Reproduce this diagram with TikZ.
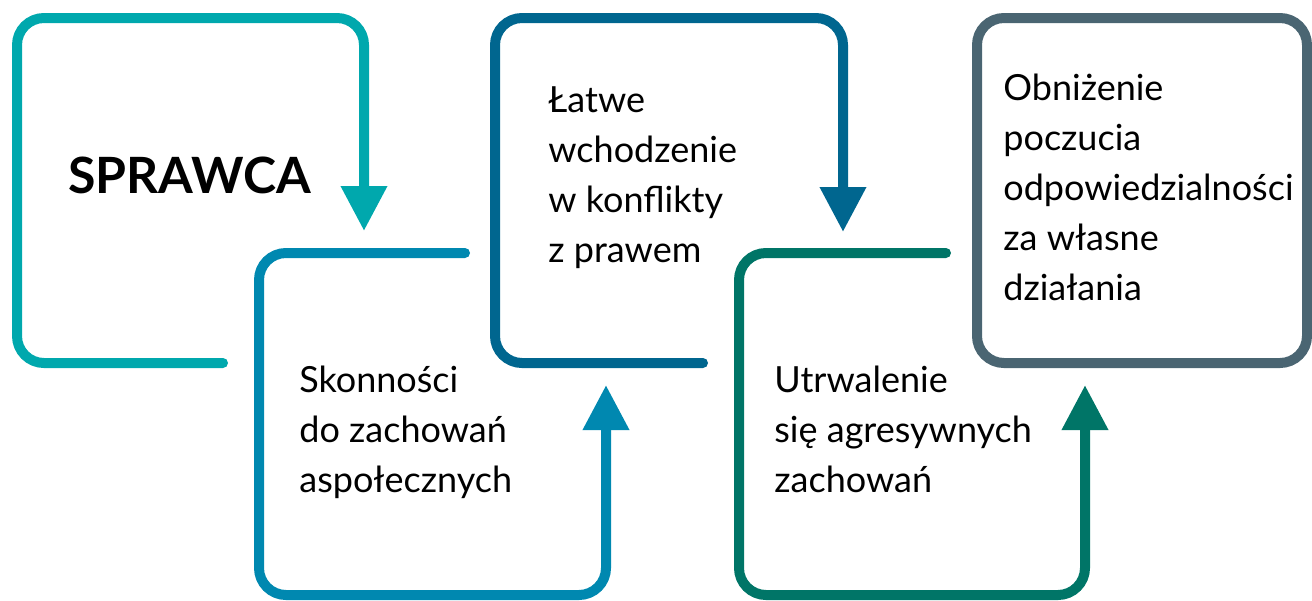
\documentclass[tikz,border=0pt]{standalone}
\usepackage{fontspec}
\setmainfont{Lato}
\usetikzlibrary{arrows.meta,positioning}
\definecolor{cteal}{RGB}{0,168,173}
\definecolor{cblue}{RGB}{0,136,176}
\definecolor{cdark}{RGB}{0,102,143}
\definecolor{cgreen}{RGB}{0,117,103}
\definecolor{cgray}{RGB}{74,101,114}

\begin{document}
\begin{tikzpicture}[
  x=0.5pt, y=-0.5pt,
  frame/.style={line width=5pt, rounded corners=13.5pt, line cap=round},
  arr/.style={-{Triangle[width=22pt,length=22.5pt]}},
  txt/.style={anchor=base west, align=left, inner sep=0pt,
    font=\fontsize{18}{25}\selectfont}
]
  \useasboundingbox (0,0) rectangle (1312,600);
  % texts (anchored at the last line)
  \node[txt, font=\fontsize{25}{28}\selectfont\bfseries] (sprawca) at (68,193) {SPRAWCA};
  \node[txt] (sklonnosci) at (299,492) {Skonności\\do zachowań\\aspołecznych};
  \node[txt] (konflikty) at (548,262) {Łatwe\\wchodzenie\\w konflikty\\z prawem};
  \node[txt] (utrwalenie) at (774,492) {Utrwalenie\\się agresywnych\\zachowań};
  \node[txt] (obnizenie) at (1003,300) {Obniżenie\\poczucia\\odpowiedzialności\\za własne\\działania};
  % frame ends and arrow tips
  \coordinate (s1) at (223,363); \coordinate (t1) at (364,231);
  \coordinate (s2) at (465,253); \coordinate (t2) at (606,385);
  \coordinate (s3) at (703,363); \coordinate (t3) at (843,232);
  \coordinate (s4) at (946,253); \coordinate (t4) at (1085,385);
  % frames
  \draw[frame, arr, cteal] (s1) -- (17,363) -- (17,18) -- (t1 |- 0,18) -- (t1);
  \draw[frame, arr, cblue] (s2) -- (259,253) -- (259,595) -- (t2 |- 0,595) -- (t2);
  \draw[frame, arr, cdark] (s3) -- (495,363) -- (495,18) -- (t3 |- 0,18) -- (t3);
  \draw[frame, arr, cgreen] (s4) -- (739,253) -- (739,595) -- (t4 |- 0,595) -- (t4);
  \draw[frame, cgray] (977,18) rectangle (1307,363);
\end{tikzpicture}
\end{document}
